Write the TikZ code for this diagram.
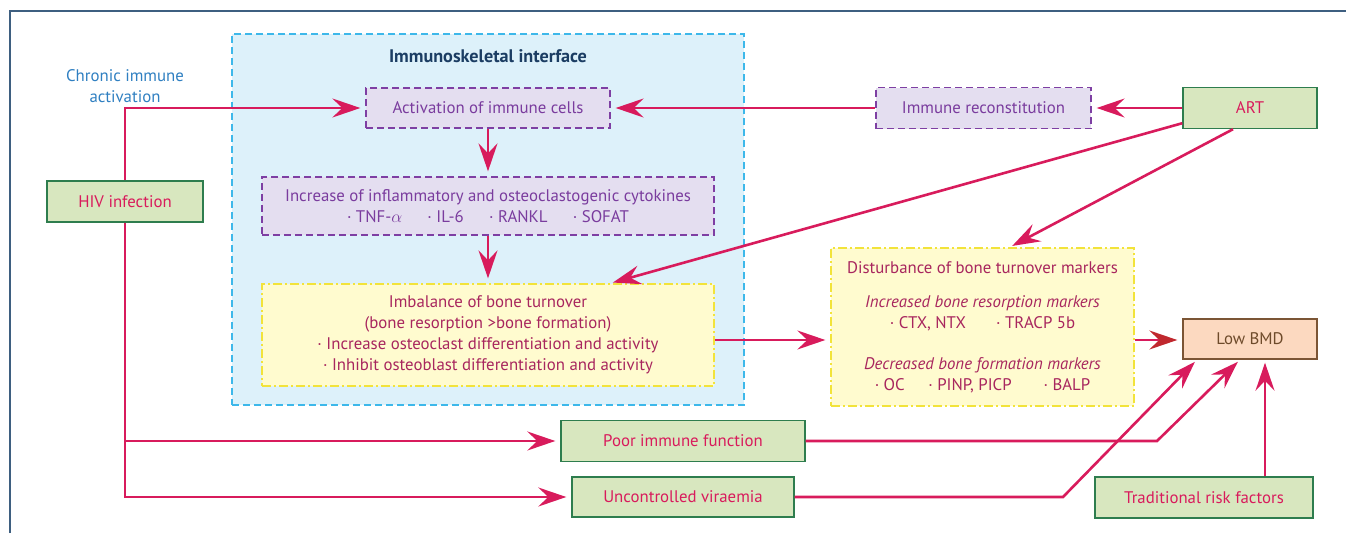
\documentclass[tikz,border=0pt]{standalone}
\usepackage{fontspec}
\setmainfont{PT Sans}
\usetikzlibrary{arrows.meta}
\definecolor{crim}{HTML}{D81B5C}
\definecolor{crimhead}{HTML}{C0282E}
\definecolor{grfill}{HTML}{D8E7BF}
\definecolor{grline}{HTML}{2E7D4E}
\definecolor{lvfill}{HTML}{E4DEF0}
\definecolor{lvline}{HTML}{7E3FA3}
\definecolor{lvtext}{HTML}{7A3C9E}
\definecolor{blfill}{HTML}{DDF1FA}
\definecolor{blline}{HTML}{3DB8EA}
\definecolor{ylfill}{HTML}{FFFBCF}
\definecolor{ylline}{HTML}{F2E33A}
\definecolor{yltext}{HTML}{A8265E}
\definecolor{pcfill}{HTML}{FCD9C0}
\definecolor{pcline}{HTML}{7B5535}
\definecolor{pctext}{HTML}{6E4B2B}
\definecolor{chtext}{HTML}{2F7FC1}
\definecolor{tttext}{HTML}{1B3D63}
\definecolor{frame}{HTML}{3E5F80}
\tikzset{
  txt/.style={font=\fontsize{16.8}{21}\selectfont, align=center, inner sep=0pt},
  greenbox/.style={txt, draw=grline, fill=grfill, line width=1.4pt, text=crim},
  lavbox/.style={txt, draw=lvline, fill=lvfill, line width=1.3pt, dash pattern=on 7pt off 4pt, text=lvtext},
  yelbox/.style={txt, draw=ylline, fill=ylfill, line width=1.3pt, dash pattern=on 9pt off 3pt on 2pt off 3pt, text=yltext},
  peachbox/.style={txt, draw=pcline, fill=pcfill, line width=1.4pt, text=pctext},
  ifacebox/.style={draw=blline, fill=blfill, line width=1.3pt, dash pattern=on 7pt off 4pt, inner sep=0pt},
  conn/.style={draw=crim, line width=2.6pt},
  arr/.style={conn, -{Stealth[length=28pt, width=19pt, inset=10pt]}, shorten >=5pt},
  arrdark/.style={conn, -{Stealth[length=28pt, width=19pt, inset=10pt, color=crimhead]}, shorten >=5pt},
}
\begin{document}
\begin{tikzpicture}[x=1pt, y=-1pt]
\useasboundingbox (0,0) rectangle (1346,533);
% frame
\draw[frame, line width=2pt] (10,533) -- (10,11) -- (1346,11);

% interface background
\node[ifacebox, minimum width=512, minimum height=371] (iface) at (488,219.5) {};
\node[txt, text=tttext, font=\fontsize{18.2}{21}\selectfont\bfseries] (title) at (488,56) {Immunoskeletal interface};

% left side
\node[txt, text=chtext] (chronic) at (125,86) {Chronic immune\\activation};
\node[greenbox, minimum width=156, minimum height=41] (hiv) at (125,201.5) {HIV infection};

% interface nodes
\node[lavbox, minimum width=244, minimum height=40] (act) at (488,108) {Activation of immune cells};
\node[lavbox, minimum width=452, minimum height=58] (cyt) at (488,206)
  {Increase of inflammatory and osteoclastogenic cytokines\\
   · TNF-$\alpha$\hspace{1.5em}· IL-6\hspace{1.5em}· RANKL\hspace{1.5em}· SOFAT};
\node[yelbox, minimum width=452, minimum height=102] (imb) at (488,335)
  {Imbalance of bone turnover\\
   (bone resorption >bone formation)\\
   · Increase osteoclast differentiation and activity\\
   · Inhibit osteoblast differentiation and activity};

% right side
\node[lavbox, minimum width=215, minimum height=41] (irc) at (983.5,108) {Immune reconstitution};
\node[greenbox, minimum width=134, minimum height=41] (art) at (1250,108) {ART};
\node[yelbox, minimum width=303, minimum height=158] (dist) at (982.5,327)
  {Disturbance of bone turnover markers\\[13pt]
   \textit{Increased bone resorption markers}\\
   · CTX, NTX\hspace{1.8em}· TRACP 5b\\[20pt]
   \textit{Decreased bone formation markers}\\
   · OC\hspace{1.4em}· PINP, PICP\hspace{1.9em}· BALP};
\node[peachbox, minimum width=134, minimum height=40] (bmd) at (1250,339) {Low BMD};

% bottom
\node[greenbox, minimum width=244, minimum height=41] (poor) at (683,441) {Poor immune function};
\node[greenbox, minimum width=222, minimum height=40] (vir) at (683,497) {Uncontrolled viraemia};
\node[greenbox, minimum width=218, minimum height=41] (trad) at (1204,497.5) {Traditional risk factors};

% bend points
\coordinate (pbend) at (1157,441);
\coordinate (vbend) at (1063,497);

% connectors
\draw[arr] (hiv.north) |- (act.west);
\draw[arr] (hiv.south) |- (poor.west);
\draw[arr] (hiv.south) |- (vir.west);
\draw[arr] (act.south) -- (cyt.north);
\draw[arr] (cyt.south) -- (imb.north);
\draw[arr] (irc.west) -- (act.east);
\draw[arr] (art.west) -- (irc.east);
\draw[arr, shorten >=3pt] ([yshift=6pt]art.south west) -- ([xshift=122pt]imb.north);
\draw[arr, shorten >=3pt] ([xshift=-17pt]art.south) -- ([xshift=27pt]dist.north);
\draw[arr] (imb.east |- 0,340) -- (dist.west |- 0,340);
\draw[arrdark] (dist.east |- 0,340) -- (bmd.west |- 0,340);
\draw[arr, shorten >=3pt] (poor.east) -- (pbend) -- ([xshift=-10pt]bmd.south);
\draw[arr, shorten >=3pt] (vir.east) -- (vbend) -- ([xshift=-53pt]bmd.south);
\draw[arr, shorten >=3pt] ([xshift=61pt]trad.north) -- ([xshift=15pt]bmd.south);
\end{tikzpicture}
\end{document}
